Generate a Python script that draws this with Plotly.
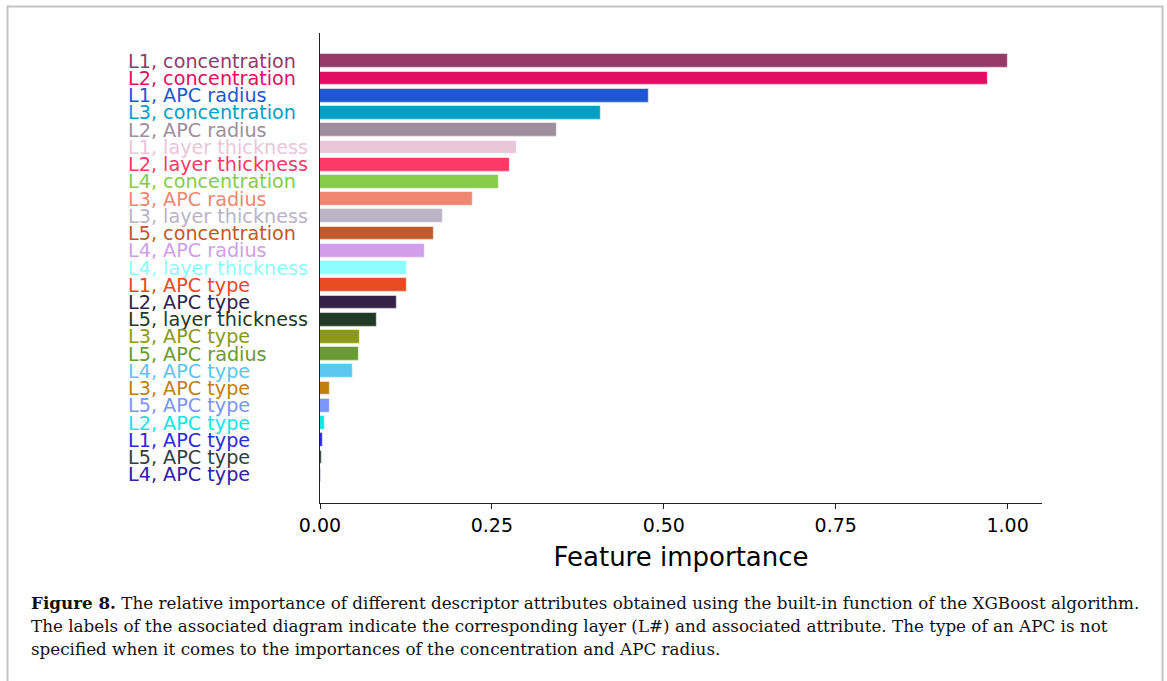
import plotly.graph_objects as go

# Feature importances from the XGBoost model, highest first
features = [
    "L1, concentration", "L2, concentration", "L1, APC radius", "L3, concentration",
    "L2, APC radius", "L1, layer thickness", "L2, layer thickness", "L4, concentration",
    "L3, APC radius", "L3, layer thickness", "L5, concentration", "L4, APC radius",
    "L4, layer thickness", "L1, APC type", "L2, APC type", "L5, layer thickness",
    "L3, APC type", "L5, APC radius", "L4, APC type", "L3, APC type",
    "L5, APC type", "L2, APC type", "L1, APC type", "L5, APC type", "L4, APC type",
]
importance = [
    1.000, 0.971, 0.479, 0.409, 0.345, 0.286, 0.276, 0.260, 0.222, 0.179,
    0.166, 0.153, 0.127, 0.126, 0.112, 0.083, 0.058, 0.057, 0.048, 0.015,
    0.014, 0.007, 0.004, 0.003, 0.002,
]
colors = [
    "#973868", "#e10d62", "#1f57d0", "#049ec6", "#9e8e9e", "#e9c6d9", "#fd3a67",
    "#86cb4a", "#ee8870", "#bbb3c6", "#c05a28", "#d09eea", "#8ffdfd", "#e84a21",
    "#33214a", "#1f3a25", "#8a9a17", "#6a9a32", "#5bc6f0", "#c08010", "#7b95f9",
    "#10e6e6", "#2a2ae0", "#2f4040", "#3020a0",
]
x_ticks = [0.0, 0.25, 0.5, 0.75, 1.0]

caption_lines = [
    "<b>Figure 8.</b> The relative importance of different descriptor attributes obtained using the built-in function of the XGBoost algorithm.",
    "The labels of the associated diagram indicate the corresponding layer (L#) and associated attribute. The type of an APC is not",
    "specified when it comes to the importances of the concentration and APC radius.",
]

W, H = 1167, 681
L, R, T, B = 320, 125, 33, 178
pw, ph = W - L - R, H - T - B


def px_x(p):
    return (p - L) / pw


def px_y(p):
    return (H - B - p) / ph


pos = list(range(len(features)))

fig = go.Figure(
    go.Bar(
        x=importance,
        y=pos,
        orientation="h",
        width=0.8,
        marker=dict(color=colors, line=dict(color="rgba(255,255,255,0.5)", width=1.2)),
        hoverinfo="x+text",
        text=features,
        textposition="none",
    )
)

axis_font = dict(family="DejaVu Sans", size=19, color="#000000")

fig.update_xaxes(
    range=[0, 1.05],
    tickvals=x_ticks,
    ticktext=[f"{v:.2f}" for v in x_ticks],
    ticks="outside",
    ticklen=5,
    tickwidth=1.3,
    tickcolor="#222222",
    showline=True,
    linecolor="#222222",
    linewidth=1.3,
    showgrid=False,
    zeroline=False,
    tickfont=axis_font,
    title=dict(text="Feature importance", font=dict(family="DejaVu Sans", size=26, color="#000000"), standoff=12),
)
fig.update_yaxes(
    range=[len(features) - 1 + 1.64, -1.64],
    tickvals=pos,
    showticklabels=False,
    ticks="",
    showline=True,
    linecolor="#222222",
    linewidth=1.3,
    showgrid=False,
    zeroline=False,
)

annotations = []
# left-aligned category labels, coloured like their bars
for p, name, c in zip(pos, features, colors):
    annotations.append(dict(
        text=name,
        xref="paper", yref="y",
        x=px_x(126.5), y=p,
        xanchor="left", yanchor="middle",
        showarrow=False,
        font=dict(family="DejaVu Sans", size=19.2, color=c),
        borderpad=0,
    ))

for i, line in enumerate(caption_lines):
    annotations.append(dict(
        text=line,
        xref="paper", yref="paper",
        x=px_x(29), y=px_y(603 + 23 * i),
        xanchor="left", yanchor="middle",
        showarrow=False,
        font=dict(family="DejaVu Serif", size=16.75, color="#111111"),
        align="left",
    ))

shapes = [dict(
    type="rect", xref="paper", yref="paper",
    x0=px_x(7.5), x1=px_x(1162.5), y0=px_y(720), y1=px_y(6.5),
    line=dict(color="#c4c4c4", width=2), fillcolor="rgba(0,0,0,0)", layer="below",
)]

fig.update_layout(
    width=W, height=H,
    margin=dict(l=L, r=R, t=T, b=B, pad=0),
    paper_bgcolor="#ffffff",
    plot_bgcolor="#ffffff",
    showlegend=False,
    annotations=annotations,
    shapes=shapes,
    bargap=0,
)

fig.write_html("out.html")
